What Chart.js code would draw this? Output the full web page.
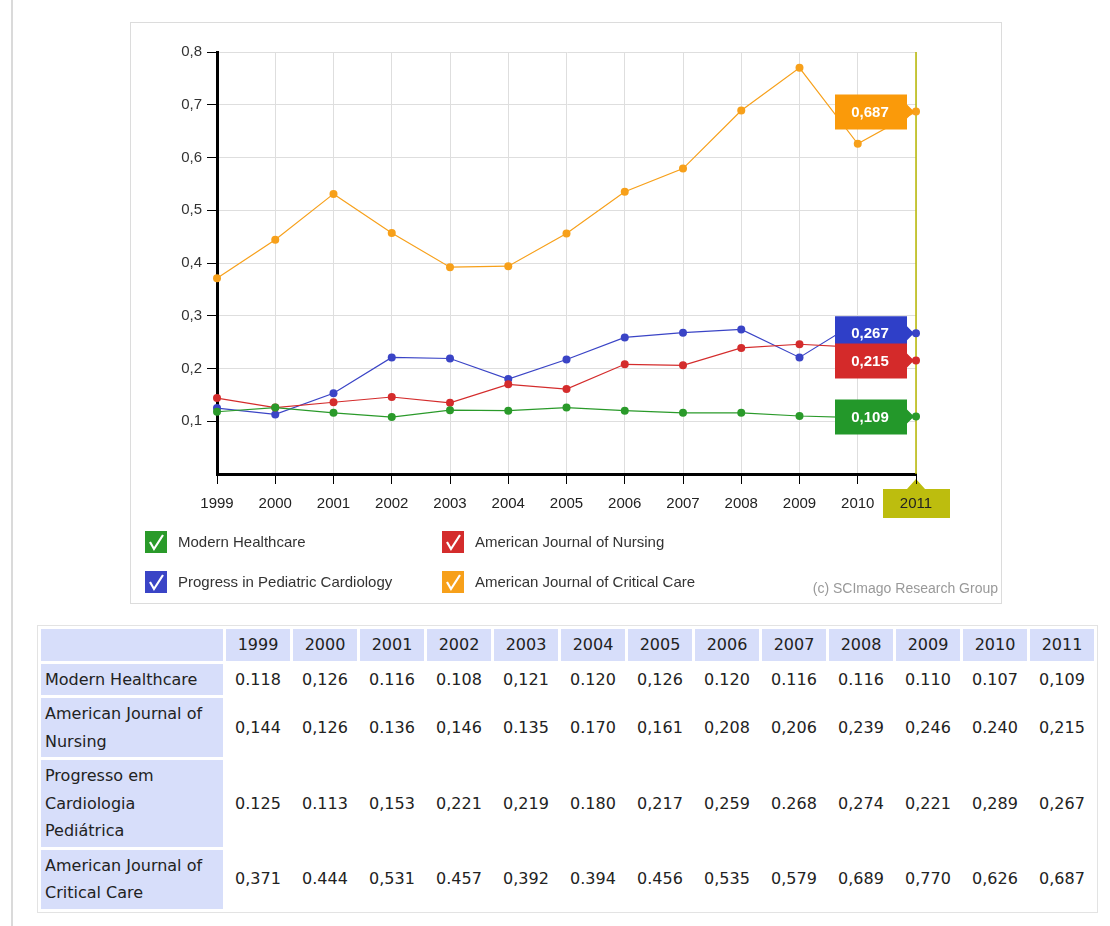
<!DOCTYPE html>
<html lang="en">
<head>
<meta charset="UTF-8">
<title>SCImago journal comparison</title>
<script src="https://cdn.jsdelivr.net/npm/chart.js@4"></script>
<style>
    body {
        margin: 0;
        width: 1110px;
        height: 926px;
        position: relative;
        overflow: hidden;
        background: #fff;
        font-family: "DejaVu Sans", Verdana, sans-serif;
    }
    .sideline {
        position: absolute;
        left: 11px;
        top: 0;
        width: 2px;
        height: 926px;
        background: #dadada;
    }
    .chartbox {
        position: absolute;
        left: 130px;
        top: 22px;
        width: 870px;
        height: 580px;
        border: 1px solid #dcdcdc;
        background: #fff;
    }
    canvas { display: block; }
    table {
        position: absolute;
        left: 37px;
        top: 625px;
        width: 1061px;
        table-layout: fixed;
        border: 1px solid #e3e3e3;
        border-spacing: 3px;
        font-size: 16px;
        color: #222;
    }
    th, td {
        padding: 2px 4px;
        line-height: 27.5px;
        text-align: center;
        font-weight: normal;
    }
    th { background: #d7defa; }
    th.name { text-align: left; }
</style>
</head>
<body>
<div class="sideline"></div>
<div class="chartbox"><canvas id="myLineChart" width="870" height="580"></canvas></div>
<table id="dataTable">
    <colgroup><col style="width:182px"></colgroup>
    <thead><tr id="headRow"><th></th></tr></thead>
    <tbody id="tableBody"></tbody>
</table>

<script>
// values as they appear in the table (mixed separators kept)
var years = ['1999', '2000', '2001', '2002', '2003', '2004', '2005', '2006', '2007', '2008', '2009', '2010', '2011'];
var modernHealthcare = ['0.118', '0,126', '0.116', '0.108', '0,121', '0.120', '0,126', '0.120', '0.116', '0.116', '0.110', '0.107', '0,109'];
var amJournalNursing = ['0,144', '0,126', '0.136', '0,146', '0.135', '0.170', '0,161', '0,208', '0,206', '0,239', '0,246', '0.240', '0,215'];
var pediatricCardiology = ['0.125', '0.113', '0,153', '0,221', '0,219', '0.180', '0,217', '0,259', '0.268', '0,274', '0,221', '0,289', '0,267'];
var amJournalCriticalCare = ['0,371', '0.444', '0,531', '0.457', '0,392', '0.394', '0.456', '0,535', '0,579', '0,689', '0,770', '0,626', '0,687'];

var chartNames = ['Modern Healthcare', 'American Journal of Nursing', 'Progress in Pediatric Cardiology', 'American Journal of Critical Care'];
var tableNames = ['Modern Healthcare', 'American Journal of Nursing', 'Progresso em Cardiologia Pediátrica', 'American Journal of Critical Care'];
var colors = ['#2a9a2a', '#d42c2c', '#3a44c6', '#f7a01a'];
var boxColors = ['#23982a', '#d42a2a', '#2f3fc8', '#fa9a0a'];

var seriesList = [modernHealthcare, amJournalNursing, pediatricCardiology, amJournalCriticalCare];

function toNum(s) { return parseFloat(s.replace(',', '.')); }
function fmt(v) { return v.toFixed(3).replace('.', ','); }

// ---- table ----
var headRow = document.getElementById('headRow');
years.forEach(function (y) {
    var th = document.createElement('th');
    th.textContent = y;
    headRow.appendChild(th);
});
var body = document.getElementById('tableBody');
seriesList.forEach(function (s, i) {
    var tr = document.createElement('tr');
    var th = document.createElement('th');
    th.className = 'name';
    th.textContent = tableNames[i];
    tr.appendChild(th);
    s.forEach(function (v) {
        var td = document.createElement('td');
        td.textContent = v;
        tr.appendChild(td);
    });
    body.appendChild(tr);
});

// ---- chart ----
var FONT = '"Liberation Sans", Arial, sans-serif';

var decor = {
    id: 'decor',
    beforeDraw: function (chart) {
        var ctx = chart.ctx;
        var x = chart.scales.x.getPixelForValue(years.length - 1);
        var b = chart.chartArea.bottom;
        ctx.save();
        ctx.fillStyle = '#bdbd0e';
        ctx.beginPath();
        ctx.moveTo(x - 33, b + 15);
        ctx.lineTo(x - 9, b + 15);
        ctx.lineTo(x, b + 5);
        ctx.lineTo(x + 9, b + 15);
        ctx.lineTo(x + 34, b + 15);
        ctx.lineTo(x + 34, b + 44);
        ctx.lineTo(x - 33, b + 44);
        ctx.closePath();
        ctx.fill();
        ctx.restore();
    },
    beforeDatasetsDraw: function (chart) {
        var ctx = chart.ctx;
        var a = chart.chartArea;
        var x = chart.scales.x.getPixelForValue(years.length - 1);
        ctx.save();
        ctx.strokeStyle = '#b8b800';
        ctx.lineWidth = 1.5;
        ctx.beginPath();
        ctx.moveTo(x, a.top);
        ctx.lineTo(x, a.bottom);
        ctx.stroke();
        ctx.restore();
    },
    afterDatasetsDraw: function (chart) {
        var ctx = chart.ctx;
        var last = years.length - 1;
        var order = [3, 0, 2, 1];
        ctx.save();
        ctx.font = 'bold 15px ' + FONT;
        ctx.textAlign = 'center';
        ctx.textBaseline = 'middle';
        order.forEach(function (i) {
            var pt = chart.getDatasetMeta(i).data[last];
            var x = pt.x, y = pt.y;
            ctx.fillStyle = boxColors[i];
            ctx.beginPath();
            ctx.moveTo(x - 81, y - 17);
            ctx.lineTo(x - 9, y - 17);
            ctx.lineTo(x - 9, y - 7);
            ctx.lineTo(x - 2, y);
            ctx.lineTo(x - 9, y + 7);
            ctx.lineTo(x - 9, y + 18);
            ctx.lineTo(x - 81, y + 18);
            ctx.closePath();
            ctx.fill();
            ctx.fillStyle = '#fff';
            ctx.fillText(fmt(chart.data.datasets[i].data[last]), x - 46, y + 1);
        });
        ctx.restore();
    },
    afterDraw: function (chart) {
        var ctx = chart.ctx;
        var slots = [[14, 508], [311, 508], [14, 548], [311, 548]];
        ctx.save();
        ctx.font = '15px ' + FONT;
        ctx.textBaseline = 'middle';
        chart.data.datasets.forEach(function (ds, i) {
            var sx = slots[i][0], sy = slots[i][1];
            ctx.fillStyle = ds.borderColor;
            ctx.fillRect(sx, sy, 22, 22);
            ctx.strokeStyle = '#fff';
            ctx.lineWidth = 2.2;
            ctx.beginPath();
            ctx.moveTo(sx + 5, sy + 11);
            ctx.lineTo(sx + 9, sy + 18);
            ctx.lineTo(sx + 18, sy + 4);
            ctx.stroke();
            ctx.fillStyle = '#333';
            ctx.textAlign = 'left';
            ctx.fillText(ds.label, sx + 33, sy + 12);
        });
        ctx.fillStyle = '#999';
        ctx.font = '14px ' + FONT;
        ctx.textAlign = 'right';
        ctx.fillText('(c) SCImago Research Group', 867, 566);
        ctx.restore();
    }
};

var datasets = seriesList.map(function (s, i) {
    return {
        label: chartNames[i],
        data: s.map(toNum),
        borderColor: colors[i],
        backgroundColor: colors[i],
        pointBackgroundColor: colors[i],
        pointBorderColor: colors[i],
        borderWidth: 1.2,
        pointRadius: 4,
        pointBorderWidth: 0,
        tension: 0,
        fill: false
    };
});

var ctx = document.getElementById('myLineChart').getContext('2d');
var myLineChart = new Chart(ctx, {
    type: 'line',
    data: { labels: years, datasets: datasets },
    options: {
        responsive: false,
        animation: false,
        devicePixelRatio: 1,
        layout: { padding: { top: 29, right: 85, left: 0, bottom: 89 } },
        plugins: {
            legend: { display: false },
            tooltip: { enabled: false }
        },
        scales: {
            x: {
                offset: false,
                afterFit: function (scale) { scale.height = 40; },
                border: { color: '#000', width: 3 },
                grid: { color: '#dedede', tickColor: '#000', tickLength: 10 },
                ticks: {
                    color: '#222',
                    padding: 11,
                    maxRotation: 0,
                    autoSkip: false,
                    font: { family: FONT, size: 15 }
                }
            },
            y: {
                min: 0,
                max: 0.8,
                afterFit: function (scale) { scale.width = 86; },
                border: { color: '#000', width: 3 },
                grid: {
                    color: '#dedede',
                    tickLength: 10,
                    tickColor: function (c) { return c.tick && c.tick.value === 0 ? 'rgba(0,0,0,0)' : '#000'; }
                },
                ticks: {
                    stepSize: 0.1,
                    color: '#333',
                    padding: 5,
                    font: { family: FONT, size: 15 },
                    callback: function (v) {
                        if (Math.abs(v) < 1e-9) return '';
                        return v.toFixed(1).replace('.', ',');
                    }
                }
            }
        }
    },
    plugins: [decor]
});
</script>
</body>
</html>
